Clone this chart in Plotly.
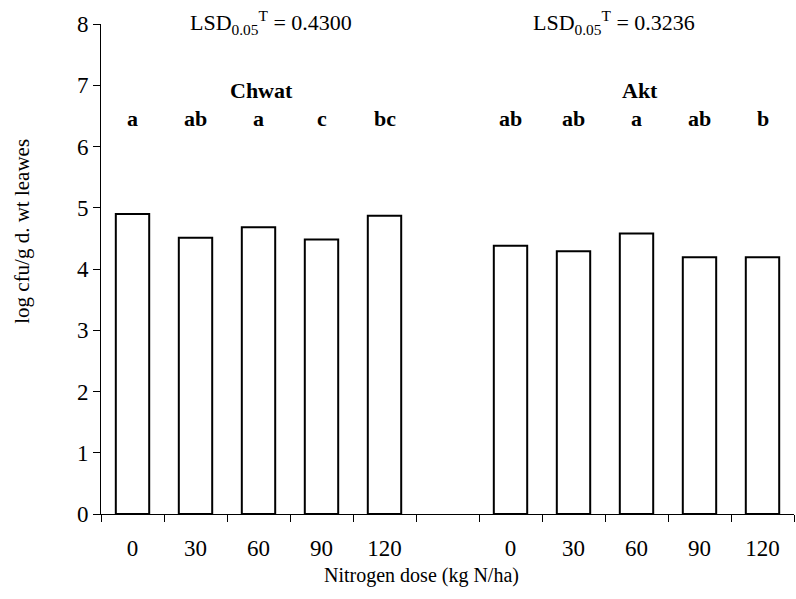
import plotly.graph_objects as go

doses = ["0", "30", "60", "90", "120"]
groups = ["Chwat", "Akt"]
chwat_values = [4.90, 4.51, 4.68, 4.48, 4.87]
akt_values = [4.38, 4.29, 4.58, 4.19, 4.19]
chwat_letters = ["a", "ab", "a", "c", "bc"]
akt_letters = ["ab", "ab", "a", "ab", "b"]
lsd_labels = ["LSD<sub>0.05</sub><sup>T</sup> = 0.4300", "LSD<sub>0.05</sub><sup>T</sup> = 0.3236"]

FONT = "Liberation Serif"
n = len(doses)
slot = n + 1
series = [chwat_values, akt_values]
letters = [chwat_letters, akt_letters]
group_label_shift = [0.05, 0.05]
lsd_shift = [0.2, -0.35]

fig = go.Figure()
xs_all, labels_all = [], []
for g, vals in enumerate(series):
    xs = [g * slot + i for i in range(n)]
    xs_all += xs
    labels_all += doses
    fig.add_trace(go.Bar(
        x=xs, y=vals, width=0.53,
        marker=dict(color="white", line=dict(color="black", width=2)),
        showlegend=False, hoverinfo="y",
    ))
    for xi, lab in zip(xs, letters[g]):
        fig.add_annotation(x=xi, xref="x", y=0.808, yref="paper", text=f"<b>{lab}</b>",
                           xanchor="center", yanchor="middle",
                           showarrow=False, font=dict(family=FONT, size=22, color="black"))
    center = g * slot + (n - 1) / 2
    fig.add_annotation(x=center + group_label_shift[g], xref="x", y=0.865, yref="paper",
                       text=f"<b>{groups[g]}</b>", xanchor="center", yanchor="middle",
                       showarrow=False, font=dict(family=FONT, size=22, color="black"))
    fig.add_annotation(x=center + lsd_shift[g], xref="x", y=1.004, yref="paper",
                       text=lsd_labels[g], showarrow=False, xanchor="center", yanchor="middle",
                       font=dict(family=FONT, size=22, color="black"))

total = 2 * n + 1
fig.add_annotation(x=0.462, xref="paper", y=-0.1245, yref="paper",
                   xanchor="center", yanchor="middle",
                   text="Nitrogen dose (kg N/ha)", showarrow=False,
                   font=dict(family=FONT, size=20, color="black"))
fig.add_annotation(x=-0.114, xref="paper", y=0.578, yref="paper", textangle=-90,
                   xanchor="center", yanchor="middle",
                   text="log cfu/g d. wt leawes", showarrow=False,
                   font=dict(family=FONT, size=21, color="black"))

fig.update_xaxes(
    range=[-0.5, total - 0.5], tickmode="array", tickvals=xs_all, ticktext=labels_all,
    ticks="", showline=True, linecolor="black", linewidth=1, showgrid=False, zeroline=False,
    tickfont=dict(family=FONT, size=23, color="black"), ticklabelstandoff=13,
    minor=dict(tickmode="array", tickvals=[i - 0.5 for i in range(total + 1)],
               ticks="outside", ticklen=7, tickcolor="black", tickwidth=1, showgrid=False),
)
fig.update_yaxes(
    range=[0, 8], dtick=1, ticks="outside", ticklen=7, tickcolor="black",
    showline=True, linecolor="black", linewidth=1, showgrid=False, zeroline=False,
    tickfont=dict(family=FONT, size=23, color="black"),
)
fig.update_layout(
    width=796, height=599, margin=dict(l=101, r=2, t=24, b=85),
    plot_bgcolor="white", paper_bgcolor="white", bargap=0.47,
)
fig.write_html("out.html", config={"displayModeBar": False},
               post_script="document.body.style.margin='0px';")
